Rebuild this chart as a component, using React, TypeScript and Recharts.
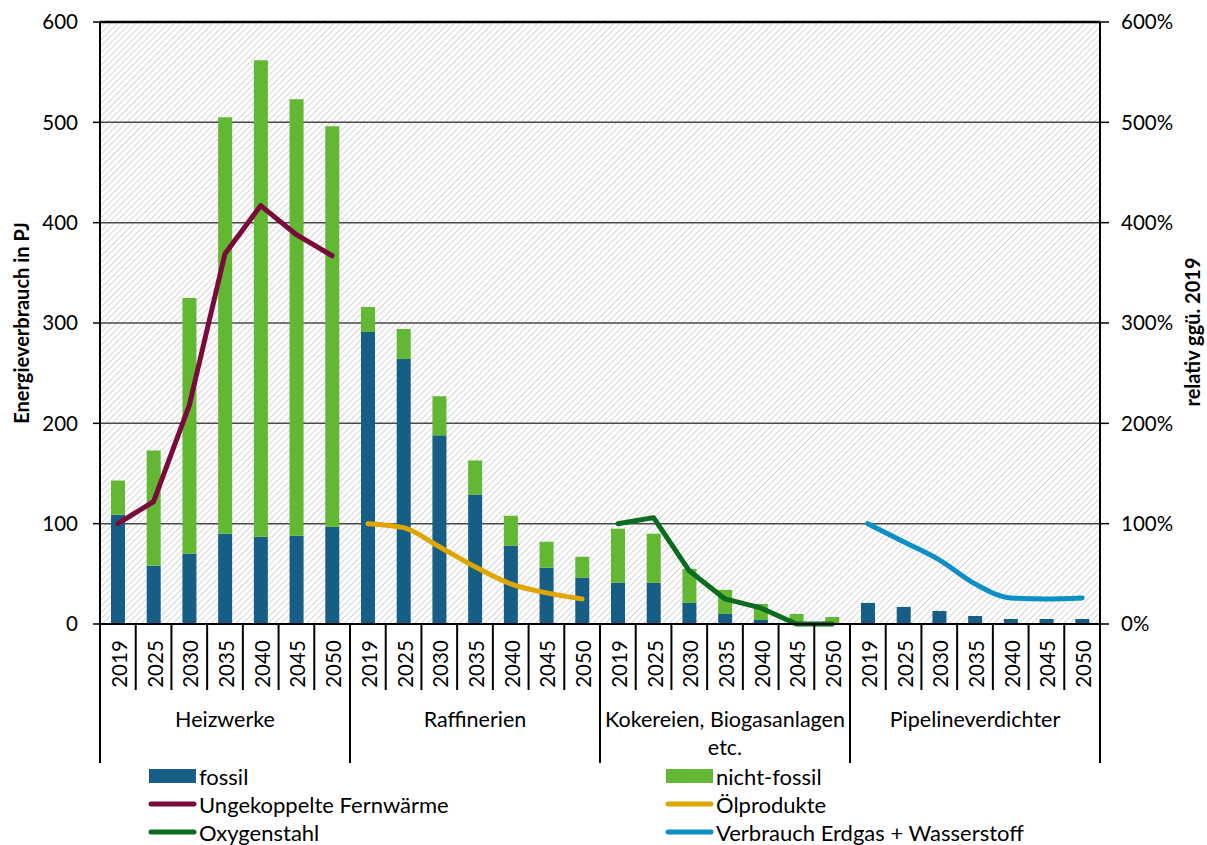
import React from 'react';
import { ComposedChart, Bar, Line, XAxis, YAxis, CartesianGrid, ReferenceLine } from 'recharts';

const GROUP_LINES: string[][] = [
  ['Heizwerke'],
  ['Raffinerien'],
  ['Kokereien, Biogasanlagen', 'etc.'],
  ['Pipelineverdichter'],
];
const YEARS = ['2019', '2025', '2030', '2035', '2040', '2045', '2050'];

// PJ, 28 categories (4 groups x 7 years)
const fossil = [
  109, 58, 70, 90, 87, 88, 97,
  291, 264, 188, 129, 78, 56, 46,
  41, 41, 21, 10, 4, 0, 0,
  21, 17, 13, 8, 5, 5, 5,
];
const nichtFossil = [
  34, 115, 255, 415, 475, 435, 399,
  25, 30, 39, 34, 30, 26, 21,
  54, 49, 34, 24, 16, 10, 7,
  0, 0, 0, 0, 0, 0, 0,
];

// relative to 2019, %
const fernwaerme = [100, 122, 218, 369, 417, 388, 367];
const oelprodukte = [100, 96, 77, 57, 40, 31, 25];
const oxygenstahl = [100, 106, 53, 25, 16, 0, 0];
const erdgasH2 = [100, 82, 64, 40, 26, 25, 26];

const LEFT_TICKS = [0, 100, 200, 300, 400, 500, 600];
const RIGHT_TICKS = [0, 100, 200, 300, 400, 500, 600];

const C_FOSSIL = '#165E85';
const C_NF = '#62B733';
const C_FW = '#7A0A3A';
const C_OEL = '#E0A600';
const C_OXY = '#0B6B1F';
const C_GAS = '#0C8FC4';

const FONT = 'Lato, "Liberation Sans", Arial, sans-serif';

const lineSeries = [fernwaerme, oelprodukte, oxygenstahl, erdgasH2];
const lineKeys = ['fernwaerme', 'oelprodukte', 'oxygenstahl', 'erdgasH2'];

const rows = GROUP_LINES.flatMap((_, g) =>
  YEARS.map((year, y) => {
    const i = g * 7 + y;
    const r: any = { key: `${g}-${year}`, year, fossil: fossil[i], nichtFossil: nichtFossil[i] };
    lineKeys.forEach((k, li) => {
      r[k] = li === g ? lineSeries[li][y] : null;
    });
    return r;
  })
);

const legendItems = [
  { name: 'fossil', color: C_FOSSIL, kind: 'rect' },
  { name: 'nicht-fossil', color: C_NF, kind: 'rect' },
  { name: 'Ungekoppelte Fernwärme', color: C_FW, kind: 'line' },
  { name: 'Ölprodukte', color: C_OEL, kind: 'line' },
  { name: 'Oxygenstahl', color: C_OXY, kind: 'line' },
  { name: 'Verbrauch Erdgas + Wasserstoff', color: C_GAS, kind: 'line' },
];

const N = 28;
const CAT_W = 1000 / N;

function XTick(props: any) {
  const { x, y, payload } = props;
  const i = payload.index ?? props.index;
  const row = rows[i];
  if (!row) return null;
  const yi = i % 7;
  const g = Math.floor(i / 7);
  const left = x - CAT_W / 2;
  const right = x + CAT_W / 2;
  return (
    <g>
      <line x1={left} x2={left} y1={y} y2={y + (yi === 0 ? 139 : 66)} stroke="#000" strokeWidth={2} />
      {i === N - 1 && <line x1={right} x2={right} y1={y} y2={y + 139} stroke="#000" strokeWidth={2} />}
      <text
        transform={`translate(${x + 1},${y + 40}) rotate(-90)`}
        textAnchor="middle"
        dominantBaseline="central"
        fontSize={20.5}
        fontFamily={FONT}
        fill="#000"
      >
        {row.year}
      </text>
      {yi === 3 &&
        GROUP_LINES[g].map((t, k) => (
          <text key={k} x={x} y={y + 103 + k * 28} textAnchor="middle" fontSize={21.5} fontFamily={FONT} fill="#000">
            {t}
          </text>
        ))}
    </g>
  );
}

const LeftTitle = (props: any) => {
  const vb = props.viewBox || {};
  const cx = 21;
  const cy = (vb.y ?? 22) + (vb.height ?? 602) / 2;
  return (
    <text
      transform={`translate(${cx},${cy}) rotate(-90)`}
      textAnchor="middle"
      dominantBaseline="central"
      fontSize={20}
      fontWeight="bold"
      fontFamily={FONT}
      fill="#000"
    >
      Energieverbrauch in PJ
    </text>
  );
};

const RightTitle = (props: any) => {
  const vb = props.viewBox || {};
  const cx = 1192;
  const cy = (vb.y ?? 22) + (vb.height ?? 602) / 2 + 9;
  return (
    <text
      transform={`translate(${cx},${cy}) rotate(-90)`}
      textAnchor="middle"
      dominantBaseline="central"
      fontSize={20}
      fontWeight="bold"
      fontFamily={FONT}
      fill="#000"
    >
      relativ ggü. 2019
    </text>
  );
};

export default function App() {
  return (
    <div style={{ position: 'absolute', left: 0, top: 0, width: 1207, height: 845, background: '#fff', fontFamily: FONT }}>
      <svg width={0} height={0} style={{ position: 'absolute' }}>
        <defs>
          <pattern id="hatch" patternUnits="userSpaceOnUse" width={4.5} height={4.5} patternTransform="rotate(45)">
            <rect width={4.5} height={4.5} fill="#fff" />
            <line x1={0} y1={0} x2={0} y2={4.5} stroke="#cacaca" strokeWidth={1.6} />
          </pattern>
        </defs>
      </svg>
      <ComposedChart
        width={1207}
        height={765}
        data={rows}
        margin={{ top: 22, right: 0, left: 0, bottom: 0 }}
        barCategoryGap={0}
      >
        <CartesianGrid vertical={false} stroke="#4a4a4a" strokeWidth={1.5} fill="url(#hatch)" fillOpacity={1} />
        <XAxis
          dataKey="key"
          interval={0}
          height={141}
          tickSize={0}
          tickMargin={0}
          tickLine={false}
          axisLine={{ stroke: '#000', strokeWidth: 2 }}
          tick={<XTick />}
        />
        <YAxis
          width={100}
          domain={[0, 600]}
          ticks={LEFT_TICKS}
          tickSize={7}
          tickMargin={15}
          tick={{ fontSize: 20.5, fill: '#000', fontFamily: FONT }}
          tickLine={{ stroke: '#000', strokeWidth: 1.5 }}
          axisLine={{ stroke: '#000', strokeWidth: 2 }}
          label={<LeftTitle />}
        />
        <YAxis
          yAxisId="right"
          orientation="right"
          width={107}
          domain={[0, 600]}
          ticks={RIGHT_TICKS}
          tickFormatter={(v: number) => `${v}%`}
          tickSize={9}
          tickMargin={12}
          tick={{ fontSize: 20.5, fill: '#000', fontFamily: FONT }}
          tickLine={{ stroke: '#000', strokeWidth: 1.5 }}
          axisLine={{ stroke: '#000', strokeWidth: 2 }}
          label={<RightTitle />}
        />
        <ReferenceLine y={600} stroke="#000" strokeWidth={2.5} />
        <Bar dataKey="fossil" stackId="a" fill={C_FOSSIL} barSize={14} isAnimationActive={false} />
        <Bar dataKey="nichtFossil" stackId="a" fill={C_NF} barSize={14} isAnimationActive={false} />
        <Line yAxisId="right" dataKey="fernwaerme" type="linear" stroke={C_FW} strokeWidth={5} strokeLinecap="round" strokeLinejoin="round" dot={false} connectNulls={false} isAnimationActive={false} />
        <Line yAxisId="right" dataKey="oelprodukte" type="monotone" stroke={C_OEL} strokeWidth={5} strokeLinecap="round" strokeLinejoin="round" dot={false} connectNulls={false} isAnimationActive={false} />
        <Line yAxisId="right" dataKey="oxygenstahl" type="linear" stroke={C_OXY} strokeWidth={5} strokeLinecap="round" strokeLinejoin="round" dot={false} connectNulls={false} isAnimationActive={false} />
        <Line yAxisId="right" dataKey="erdgasH2" type="monotone" stroke={C_GAS} strokeWidth={5} strokeLinecap="round" strokeLinejoin="round" dot={false} connectNulls={false} isAnimationActive={false} />
      </ComposedChart>
      <svg width={1207} height={90} style={{ position: 'absolute', left: 0, top: 755, overflow: 'visible' }}>
        {legendItems.map((it, k) => {
          const col = k % 2;
          const row = Math.floor(k / 2);
          const sx = col === 0 ? 149 : 666;
          const cy = 21 + row * 28;
          return (
            <g key={it.name}>
              {it.kind === 'rect' ? (
                <rect x={sx} y={cy - 7} width={47} height={14} fill={it.color} />
              ) : (
                <line x1={sx + 2} x2={sx + 45} y1={cy} y2={cy} stroke={it.color} strokeWidth={5} strokeLinecap="round" />
              )}
              <text x={sx + 50} y={cy} dominantBaseline="central" fontSize={22} fontFamily={FONT} fill="#000">
                {it.name}
              </text>
            </g>
          );
        })}
      </svg>
    </div>
  );
}
